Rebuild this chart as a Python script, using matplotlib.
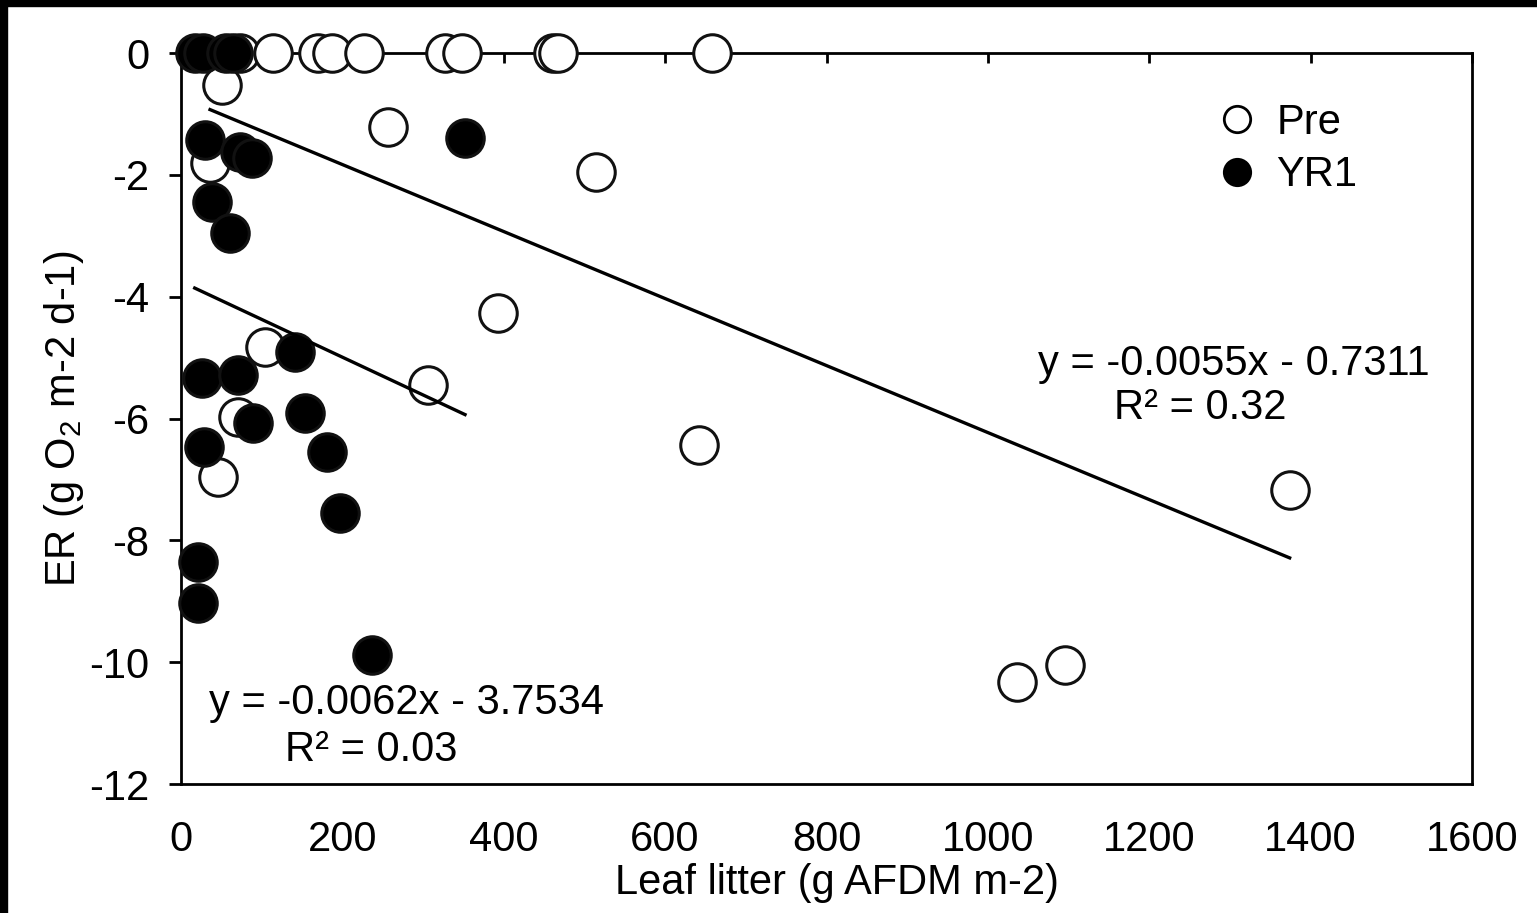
import numpy as np
import matplotlib.pyplot as plt
from matplotlib.patches import Rectangle
from matplotlib.lines import Line2D

plt.rcParams['font.family'] = ['Liberation Sans', 'DejaVu Sans']
plt.rcParams['mathtext.fontset'] = 'custom'
plt.rcParams['mathtext.rm'] = 'Liberation Sans'
plt.rcParams['axes.unicode_minus'] = False

# Pre (open circles)
pre_x = [73, 114, 170, 187, 227, 327, 348, 461, 467, 658,
         51, 257, 36, 514, 393, 104, 306, 71, 46, 642, 1374, 1036, 1096]
pre_y = [0, 0, 0, 0, 0, 0, 0, 0, 0, 0,
         -0.53, -1.21, -1.81, -1.95, -4.27, -4.83, -5.45, -5.98, -6.96, -6.43, -7.17, -10.33, -10.05]

# YR1 (filled circles)
yr1_x = [17, 27, 56, 64, 30, 352, 73, 88, 38, 61, 26, 71, 141, 89, 154, 28, 181, 197, 21, 21, 237]
yr1_y = [0, 0, 0, 0, -1.43, -1.40, -1.63, -1.72, -2.45, -2.95, -5.34, -5.29, -4.91, -6.07, -5.91,
         -6.47, -6.55, -7.55, -8.36, -9.03, -9.88]

# trendlines as printed on the chart
pre_slope, pre_int = -0.0055, -0.7311
yr1_slope, yr1_int = -0.0062, -3.7534

fs = 30
fig = plt.figure(figsize=(15.37, 9.13), dpi=100)
ax = fig.add_axes([181/1537, 1 - 784/913, 1291/1537, 731/913])

ax.scatter(pre_x, pre_y, s=27**2, facecolor='white', edgecolor='#111111', linewidth=2.2,
           zorder=3, clip_on=False)
ax.scatter(yr1_x, yr1_y, s=27**2, facecolor='black', edgecolor='#111111', linewidth=2.2,
           zorder=4, clip_on=False)

xp = np.array([min(pre_x[10:]), max(pre_x)])
ax.plot(xp, pre_slope * xp + pre_int, color='black', lw=2.4, zorder=5)
xy = np.array([min(yr1_x), max(yr1_x)])
ax.plot(xy, yr1_slope * xy + yr1_int, color='black', lw=2.4, zorder=5)

ax.text(1305, -5.1, 'y = -0.0055x - 0.7311', fontsize=fs, ha='center', va='center')
ax.text(1263, -5.83, 'R² = 0.32', fontsize=fs, ha='center', va='center')
ax.text(280, -10.67, 'y = -0.0062x - 3.7534', fontsize=fs, ha='center', va='center')
ax.text(236, -11.44, 'R² = 0.03', fontsize=fs, ha='center', va='center')

ax.set_xlim(0, 1600)
ax.set_ylim(-12, 0)
ax.set_xticks(np.arange(0, 1601, 200))
ax.set_yticks(np.arange(-12, 1, 2))

for sp in ax.spines.values():
    sp.set_linewidth(2)
ax.tick_params(axis='x', direction='in', length=7, width=2, pad=26, labelsize=fs)
for t in ax.xaxis.get_major_ticks():
    t.tick1line.set_visible(False)
    t.tick2line.set_visible(True)
ax.tick_params(axis='y', direction='out', length=9, width=2, pad=14, labelsize=fs)

ax.set_xlabel('Leaf litter (g AFDM m-2)', fontsize=fs, labelpad=2)
ax.xaxis.label.set_x(0.508)
ax.set_ylabel(r'ER (g O$_\mathregular{2}$ m-2 d-1)', fontsize=fs, labelpad=2)

handles = [Line2D([], [], ls='none', marker='o', markersize=19, markerfacecolor='white',
                  markeredgecolor='black', markeredgewidth=2),
           Line2D([], [], ls='none', marker='o', markersize=19, markerfacecolor='black',
                  markeredgecolor='black', markeredgewidth=2)]
ax.legend(handles, ['Pre', 'YR1'], loc='upper left', bbox_to_anchor=(0.8017, 0.932),
          frameon=False, fontsize=fs, handlelength=1, handletextpad=0.45,
          labelspacing=0.3, borderpad=0, borderaxespad=0)

# black frame strips at top and left
fig.patches.append(Rectangle((0, 1 - 6/913), 1, 6/913, transform=fig.transFigure,
                             color='black', zorder=10))
fig.patches.append(Rectangle((0, 0), 7/1537, 1, transform=fig.transFigure,
                             color='black', zorder=10))

plt.savefig('out.png', dpi=100)
